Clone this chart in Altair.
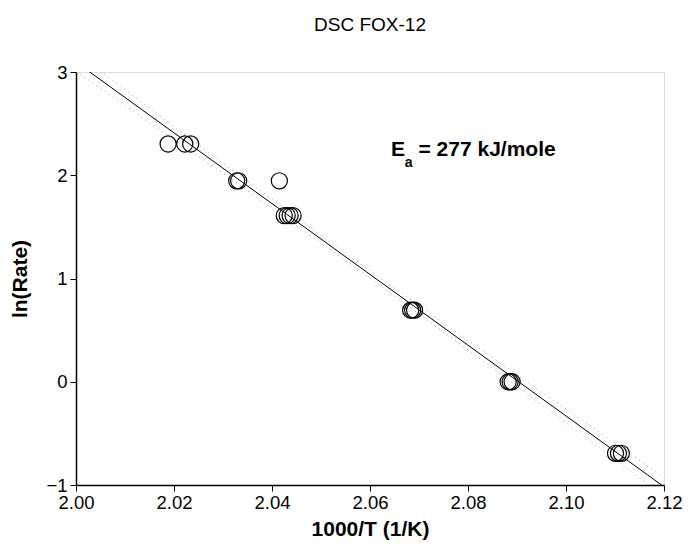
import altair as alt
import pandas as pd

# Data points: 1000/T and ln(rate)
inv_T = [2.0188, 2.0222, 2.0234,
         2.0328, 2.0332, 2.0415,
         2.0425, 2.0431, 2.0437, 2.0443,
         2.0683, 2.0687, 2.0691,
         2.0882, 2.0886, 2.0890,
         2.1101, 2.1107, 2.1113]
ln_rate = [2.303, 2.303, 2.303,
           1.946, 1.946, 1.946,
           1.609, 1.609, 1.609, 1.609,
           0.693, 0.693, 0.693,
           0.0, 0.0, 0.0,
           -0.693, -0.693, -0.693]

# Fitted line
fit_x = [2.00, 2.12]
fit_y = [3.096, -1.017]

# Confidence bands
band_x = [2.00, 2.03, 2.055, 2.08, 2.12]
band_upper = [3.186, 2.118, 1.246, 0.399, -0.927]
band_lower = [3.006, 2.018, 1.176, 0.309, -1.107]

x_ticks = [2.00, 2.02, 2.04, 2.06, 2.08, 2.10, 2.12]
y_ticks = [-1, 0, 1, 2, 3]

FONT = "Liberation Sans"

pts = pd.DataFrame({"x": inv_T, "y": ln_rate})
fit = pd.DataFrame({"x": fit_x, "y": fit_y})
bands = pd.DataFrame({
    "x": band_x * 2,
    "y": band_upper + band_lower,
    "band": ["upper"] * len(band_x) + ["lower"] * len(band_x),
})

xs = alt.Scale(domain=[2.00, 2.12], nice=False, zero=False)
ys = alt.Scale(domain=[-1, 3], nice=False, zero=False)

xaxis = alt.Axis(values=x_ticks, format=".2f", title="1000/T (1/K)",
                 grid=False, tickSize=6, tickColor="black", domainColor="black",
                 labelFont=FONT, labelFontSize=18.5, labelColor="black", labelPadding=2,
                 labelFlush=False, labelOverlap=False,
                 titleFont=FONT, titleFontSize=21, titleFontWeight="bold", titleColor="black",
                 titlePadding=7, domainWidth=1.5, tickWidth=1)
yaxis = alt.Axis(values=y_ticks, format="d", title="ln(Rate)",
                 grid=False, tickSize=6, tickColor="black", domainColor="black",
                 labelFont=FONT, labelFontSize=18.5, labelColor="black", labelPadding=3,
                 labelFlush=False, labelOverlap=False,
                 titleFont=FONT, titleFontSize=21, titleFontWeight="bold", titleColor="black",
                 titlePadding=15, domainWidth=1.5, tickWidth=1)

band_layer = alt.Chart(bands).mark_line(
    color="#999999", strokeWidth=0.9, strokeDash=[1, 4], clip=True
).encode(
    x=alt.X("x:Q", scale=xs, axis=xaxis),
    y=alt.Y("y:Q", scale=ys, axis=yaxis),
    detail="band:N",
)

fit_layer = alt.Chart(fit).mark_line(color="black", strokeWidth=1, clip=True).encode(
    x=alt.X("x:Q", scale=xs),
    y=alt.Y("y:Q", scale=ys),
)

pt_layer = alt.Chart(pts).mark_point(
    shape="circle", size=260, filled=False, color="black", strokeWidth=1.2, opacity=1
).encode(
    x=alt.X("x:Q", scale=xs),
    y=alt.Y("y:Q", scale=ys),
)

ann_E = alt.Chart(pd.DataFrame({"x": [2.0643], "y": [2.245], "t": ["E"]})).mark_text(
    font=FONT, fontSize=21, fontWeight="bold", align="left", baseline="middle", color="black"
).encode(x=alt.X("x:Q", scale=xs), y=alt.Y("y:Q", scale=ys), text="t:N")

ann_a = alt.Chart(pd.DataFrame({"x": [2.0671], "y": [2.12], "t": ["a"]})).mark_text(
    font=FONT, fontSize=14, fontWeight="bold", align="left", baseline="middle", color="black"
).encode(x=alt.X("x:Q", scale=xs), y=alt.Y("y:Q", scale=ys), text="t:N")

ann_rest = alt.Chart(pd.DataFrame({"x": [2.0699], "y": [2.245], "t": ["= 277 kJ/mole"]})).mark_text(
    font=FONT, fontSize=21, fontWeight="bold", align="left", baseline="middle", color="black"
).encode(x=alt.X("x:Q", scale=xs), y=alt.Y("y:Q", scale=ys), text="t:N")

chart = alt.layer(band_layer, fit_layer, pt_layer, ann_E, ann_a, ann_rest).properties(
    width=588,
    height=413,
    title=alt.TitleParams("DSC FOX-12", font=FONT, fontSize=19, fontWeight="normal",
                          color="black", anchor="middle", offset=28, frame="group"),
    autosize=alt.AutoSizeParams(type="none"),
    padding={"left": 68, "top": 64, "right": 18, "bottom": 60},
).configure_view(stroke="black", strokeWidth=1.5).configure(background="white")

chart.save("out.html", embed_options={"renderer": "svg", "actions": False})
